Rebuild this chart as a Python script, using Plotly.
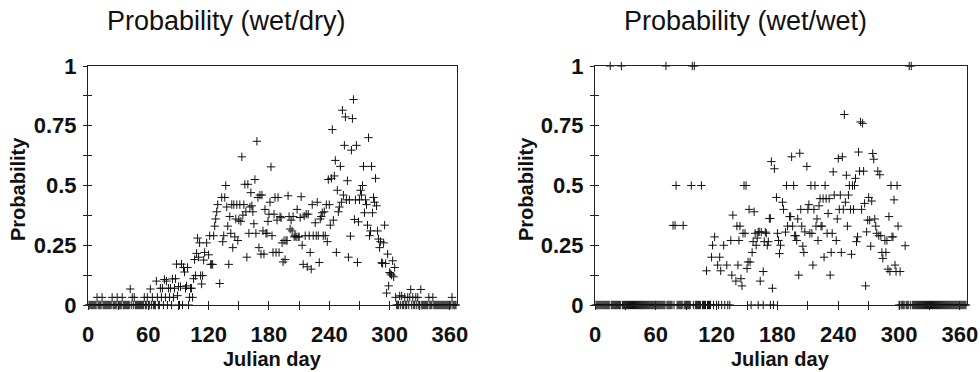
import plotly.graph_objects as go

# ---------------- data: Probability (wet/dry) ----------------
wd_days = [9, 14, 24, 29, 34, 42, 44, 46, 56, 59, 62, 64, 68, 69, 72, 73, 74, 76, 77, 78,
           80, 81, 82, 84, 85, 86, 87, 88, 89, 90, 92, 93, 95, 96, 97, 98, 99, 101, 102, 103,
           104, 105, 106, 107, 108, 109, 110, 111, 112, 113, 114, 115, 116, 118, 120, 121, 122, 123, 124, 125,
           126, 127, 128, 129, 131, 133, 134, 135, 136, 137, 138, 139, 140, 141, 142, 143, 144, 145, 146, 147,
           148, 149, 150, 151, 152, 153, 154, 155, 156, 157, 158, 159, 160, 161, 162, 163, 164, 165, 166, 167,
           168, 169, 170, 171, 172, 173, 174, 175, 176, 177, 178, 179, 180, 181, 182, 183, 184, 185, 186, 187,
           188, 189, 190, 191, 192, 193, 194, 195, 196, 197, 198, 199, 200, 201, 202, 203, 204, 205, 206, 207,
           208, 209, 210, 211, 212, 213, 214, 215, 216, 217, 218, 219, 220, 221, 222, 223, 224, 226, 227, 228,
           229, 230, 231, 232, 233, 234, 235, 236, 237, 238, 239, 240, 241, 242, 243, 244, 245, 246, 247, 248,
           249, 250, 251, 252, 253, 254, 255, 256, 257, 258, 259, 260, 261, 262, 263, 264, 265, 266, 267, 268,
           269, 270, 271, 272, 273, 274, 275, 276, 277, 278, 279, 280, 281, 282, 283, 284, 285, 286, 287, 288,
           289, 290, 291, 292, 293, 294, 295, 296, 297, 298, 299, 300, 301, 302, 303, 304, 305, 306, 310, 312,
           315, 318, 320, 321, 323, 326, 328, 331, 339, 343, 362]
wd_prob = [0.032, 0.032, 0.032, 0.032, 0.032, 0.067, 0.032, 0.032, 0.032, 0.032, 0.067, 0.032, 0.10, 0.032, 0.07, 0.032, 0.07, 0.107, 0.032, 0.10,
           0.07, 0.032, 0.07, 0.109, 0.032, 0.07, 0.11, 0.171, 0.039, 0.077, 0.077, 0.171, 0.157, 0.138, 0.07, 0.08, 0.157, 0.032, 0.07, 0.07,
           0.032, 0.11, 0.19, 0.123, 0.216, 0.28, 0.20, 0.26, 0.123, 0.088, 0.123, 0.188, 0.22, 0.26, 0.21, 0.29, 0.17, 0.17, 0.17, 0.29,
           0.33, 0.36, 0.39, 0.42, 0.09, 0.45, 0.265, 0.29, 0.45, 0.50, 0.41, 0.33, 0.17, 0.37, 0.30, 0.42, 0.24, 0.42, 0.285, 0.36,
           0.42, 0.27, 0.355, 0.42, 0.35, 0.62, 0.376, 0.42, 0.505, 0.39, 0.20, 0.505, 0.30, 0.41, 0.47, 0.415, 0.39, 0.34, 0.525, 0.30,
           0.685, 0.45, 0.24, 0.46, 0.213, 0.46, 0.31, 0.213, 0.40, 0.30, 0.30, 0.35, 0.38, 0.43, 0.578, 0.29, 0.22, 0.38, 0.45, 0.22,
           0.355, 0.45, 0.22, 0.37, 0.365, 0.26, 0.18, 0.27, 0.19, 0.27, 0.27, 0.457, 0.37, 0.318, 0.355, 0.31, 0.37, 0.285, 0.29, 0.285,
           0.40, 0.285, 0.285, 0.366, 0.453, 0.25, 0.17, 0.372, 0.29, 0.38, 0.16, 0.38, 0.29, 0.22, 0.15, 0.42, 0.29, 0.344, 0.29, 0.43,
           0.29, 0.178, 0.36, 0.37, 0.386, 0.29, 0.39, 0.29, 0.42, 0.265, 0.525, 0.42, 0.334, 0.53, 0.734, 0.355, 0.54, 0.605, 0.22, 0.48,
           0.39, 0.41, 0.58, 0.43, 0.815, 0.46, 0.668, 0.787, 0.44, 0.52, 0.20, 0.44, 0.288, 0.648, 0.78, 0.86, 0.358, 0.44, 0.668, 0.178,
           0.348, 0.44, 0.48, 0.46, 0.50, 0.58, 0.386, 0.44, 0.42, 0.334, 0.70, 0.29, 0.31, 0.58, 0.386, 0.45, 0.43, 0.53, 0.415, 0.31,
           0.276, 0.24, 0.265, 0.177, 0.174, 0.26, 0.334, 0.174, 0.05, 0.213, 0.08, 0.136, 0.13, 0.125, 0.185, 0.118, 0.157, 0.032, 0.038, 0.038,
           0.032, 0.032, 0.032, 0.065, 0.032, 0.032, 0.032, 0.065, 0.032, 0.032, 0.032]
wd_zero_days = [1, 2, 3, 4, 5, 6, 7, 8, 10, 11, 12, 13, 15, 16, 17, 18, 19, 20, 21, 22, 23, 25, 26, 27, 28,
                30, 31, 32, 33, 35, 36, 37, 38, 39, 40, 41, 43, 45, 47, 48, 49, 50, 51, 52, 53, 54, 55, 57, 58,
                60, 61, 63, 65, 66, 67, 70, 71, 75, 79, 83, 91, 94, 100,
                307, 308, 309, 311, 313, 314, 316, 317, 319, 322, 324, 325, 327, 329, 330, 332, 333, 334, 335,
                336, 337, 338, 340, 341, 342, 344, 345, 346, 347, 348, 349, 350, 351, 352, 353, 354, 355, 356,
                357, 358, 359, 360, 361, 363, 364, 365, 366]

# ---------------- data: Probability (wet/wet) ----------------
ww_days = [15, 26, 70, 96, 98, 77, 79, 80, 87, 95, 105,
           110, 115, 116, 118, 121, 123, 124, 127, 130, 134, 135, 136, 139, 140, 141, 142, 143, 144, 145, 146,
           147, 148, 149, 150, 151, 152, 153, 155, 156, 157, 158, 159, 160, 162, 161, 164, 166, 163, 167, 168,
           169, 170, 171, 172, 173, 174, 175, 177, 179, 180, 181, 182, 183, 185, 186, 188, 189, 190, 192, 193,
           194, 195, 196, 197, 198, 199, 200, 201, 202, 203, 204, 205, 206, 207, 209, 210, 211, 212, 213, 214,
           215, 216, 217, 218, 219, 220, 221, 222, 223, 224, 225, 226, 227, 228, 229, 230, 231, 232, 233, 234,
           235, 236, 238, 239, 240, 241, 242, 243, 244, 245, 246, 247, 248, 249, 250, 251, 252, 253, 254, 255,
           256, 257, 258, 259, 260, 261, 262, 263, 264, 265, 266, 267, 268, 269, 270, 271, 272, 273, 274, 275,
           276, 277, 278, 279, 280, 281, 282, 283, 284, 286, 287, 288, 289, 290, 291, 292, 293, 294, 295, 296,
           297, 298, 299, 301, 306, 310, 312]
ww_prob = [1.0, 1.0, 1.0, 1.0, 1.0, 0.333, 0.333, 0.5, 0.333, 0.5, 0.5,
           0.143, 0.20, 0.25, 0.285, 0.167, 0.20, 0.143, 0.25, 0.167, 0.27, 0.125, 0.376, 0.10, 0.33, 0.167, 0.27, 0.33, 0.11, 0.08, 0.30,
           0.5, 0.30, 0.5, 0.153, 0.18, 0.40, 0.18, 0.22, 0.265, 0.39, 0.30, 0.25, 0.28, 0.306, 0.305, 0.305, 0.14, 0.10, 0.265, 0.305,
           0.30, 0.25, 0.265, 0.362, 0.362, 0.60, 0.07, 0.57, 0.45, 0.30, 0.27, 0.215, 0.25, 0.43, 0.40, 0.305, 0.50, 0.33, 0.37, 0.37,
           0.62, 0.33, 0.50, 0.29, 0.29, 0.27, 0.36, 0.125, 0.635, 0.40, 0.33, 0.246, 0.22, 0.306, 0.58, 0.40, 0.42, 0.30, 0.50, 0.30,
           0.167, 0.40, 0.50, 0.33, 0.36, 0.27, 0.415, 0.445, 0.33, 0.33, 0.445, 0.20, 0.50, 0.445, 0.30, 0.383, 0.445, 0.125, 0.22, 0.30,
           0.557, 0.46, 0.27, 0.36, 0.613, 0.40, 0.46, 0.22, 0.62, 0.40, 0.797, 0.43, 0.543, 0.33, 0.46, 0.50, 0.40, 0.212, 0.50, 0.40,
           0.50, 0.53, 0.265, 0.285, 0.64, 0.56, 0.766, 0.40, 0.76, 0.56, 0.425, 0.08, 0.306, 0.355, 0.45, 0.355, 0.246, 0.435, 0.634, 0.61,
           0.36, 0.33, 0.30, 0.56, 0.29, 0.545, 0.29, 0.22, 0.195, 0.27, 0.22, 0.27, 0.15, 0.37, 0.14, 0.50, 0.285, 0.285, 0.44, 0.167,
           0.14, 0.50, 0.33, 0.14, 0.248, 1.0, 1.0]
ww_zero_days = [1, 2, 3, 4, 5, 6, 7, 8, 9, 10, 11, 12, 13, 14, 16, 17, 18, 19, 20, 21, 22, 23, 24, 25, 27,
                28, 29, 30, 31, 32, 33, 34, 35, 36, 37, 38, 39, 40, 41, 42, 43, 44, 45, 46, 47, 48, 49, 50, 51,
                52, 53, 54, 55, 56, 57, 58, 59, 60, 61, 62, 63, 64, 65, 66, 67, 68, 69, 71, 72, 73, 74, 75, 76,
                78, 81, 82, 83, 84, 85, 86, 88, 89, 90, 91, 92, 93, 94, 97, 99, 100, 101, 102, 103, 104, 106,
                107, 108, 109, 111, 112, 113, 114, 117, 120, 122, 125, 128, 131, 133, 154, 161, 166, 173, 176,
                300, 302, 303, 304, 305, 307, 308, 309, 311, 313, 314, 315, 316, 317, 318, 319, 320, 321, 322,
                323, 324, 325, 326, 327, 328, 329, 330, 331, 332, 333, 334, 335, 336, 337, 338, 339, 340, 341,
                342, 343, 344, 345, 346, 347, 348, 349, 350, 351, 352, 353, 354, 355, 356, 357, 358, 359, 360,
                361, 362, 363, 364, 365, 366]

x_ticks = [0, 60, 120, 180, 240, 300, 360]
y_ticks = [0, 0.25, 0.5, 0.75, 1]
y_tick_text = ["0", "0.25", "0.5", "0.75", "1"]
titles = ["Probability (wet/dry)", "Probability (wet/wet)"]

FONT = "Liberation Sans, Arial, sans-serif"
W, H = 980, 372

marker = dict(symbol="cross-thin", size=6, color="#111", line=dict(color="#111", width=1))

fig = go.Figure()
fig.add_trace(go.Scatter(x=wd_days + wd_zero_days, y=wd_prob + [0] * len(wd_zero_days),
                         mode="markers", marker=marker, xaxis="x", yaxis="y",
                         cliponaxis=False, showlegend=False))
fig.add_trace(go.Scatter(x=ww_days + ww_zero_days, y=ww_prob + [0] * len(ww_zero_days),
                         mode="markers", marker=marker, xaxis="x2", yaxis="y2",
                         cliponaxis=False, showlegend=False))
# invisible traces on the overlay axes (inside half of crossing ticks)
fig.add_trace(go.Scatter(x=[None], y=[None], xaxis="x3", yaxis="y3", showlegend=False))
fig.add_trace(go.Scatter(x=[None], y=[None], xaxis="x4", yaxis="y4", showlegend=False))

ydom = [67 / H, 1 - 66 / H]
xdom1 = [88 / W, 457 / W]
xdom2 = [595 / W, 967 / W]
tickfont = dict(family=FONT, size=22, color="#111", weight="bold")

def xax(domain, anchor, overlay=None):
    tk = "inside" if overlay else "outside"
    d = dict(range=[0, 367], tickvals=x_ticks, showgrid=False, zeroline=False, automargin=False,
             minor=dict(dtick=30, tick0=0, ticks=tk, ticklen=4, tickcolor="#222"),
             ticks=tk, ticklen=4, tickcolor="#222", anchor=anchor)
    if overlay:
        d.update(overlaying=overlay, showticklabels=False, showline=False)
    else:
        d.update(domain=domain, showline=True, linecolor="#222", linewidth=1, mirror=True,
                 tickfont=tickfont, ticklabelstandoff=6)
    return d

def yax(anchor, overlay=None):
    tk = "inside" if overlay else "outside"
    d = dict(range=[0, 1], tickvals=y_ticks, ticktext=y_tick_text, showgrid=False, zeroline=False,
             automargin=False,
             minor=dict(dtick=0.125, tick0=0, ticks=tk, ticklen=4, tickcolor="#222"),
             ticks=tk, ticklen=4, tickcolor="#222", anchor=anchor)
    if overlay:
        d.update(overlaying=overlay, showticklabels=False, showline=False)
    else:
        d.update(domain=ydom, showline=True, linecolor="#222", linewidth=1, mirror=True,
                 tickfont=tickfont, ticklabelstandoff=2)
    return d

fig.update_layout(
    width=W, height=H, margin=dict(l=0, r=0, t=0, b=0, autoexpand=False),
    paper_bgcolor="white", plot_bgcolor="white",
    xaxis=xax(xdom1, "y"), yaxis=yax("x"),
    xaxis2=xax(xdom2, "y2"), yaxis2=yax("x2"),
    xaxis3=xax(xdom1, "y", overlay="x"), yaxis3=yax("x", overlay="y"),
    xaxis4=xax(xdom2, "y2", overlay="x2"), yaxis4=yax("x2", overlay="y2"),
)

annots = []
for cx, t in zip([226, 745], titles):
    annots.append(dict(text=t, x=cx / W, y=1 - 21 / H, xref="paper", yref="paper",
                       showarrow=False, xanchor="center", yanchor="middle",
                       font=dict(family=FONT, size=27, color="#111")))
for cx in [272, 780]:
    annots.append(dict(text="Julian day", x=cx / W, y=1 - 359 / H, xref="paper", yref="paper",
                       showarrow=False, xanchor="center", yanchor="middle",
                       font=dict(family=FONT, size=20, color="#111", weight="bold")))
for cx in [18, 526]:
    annots.append(dict(text="Probability", x=cx / W, y=1 - 189 / H, xref="paper", yref="paper",
                       showarrow=False, xanchor="center", yanchor="middle", textangle=-90,
                       font=dict(family=FONT, size=20, color="#111", weight="bold")))
fig.update_layout(annotations=annots)

fig.write_html("out.html")
